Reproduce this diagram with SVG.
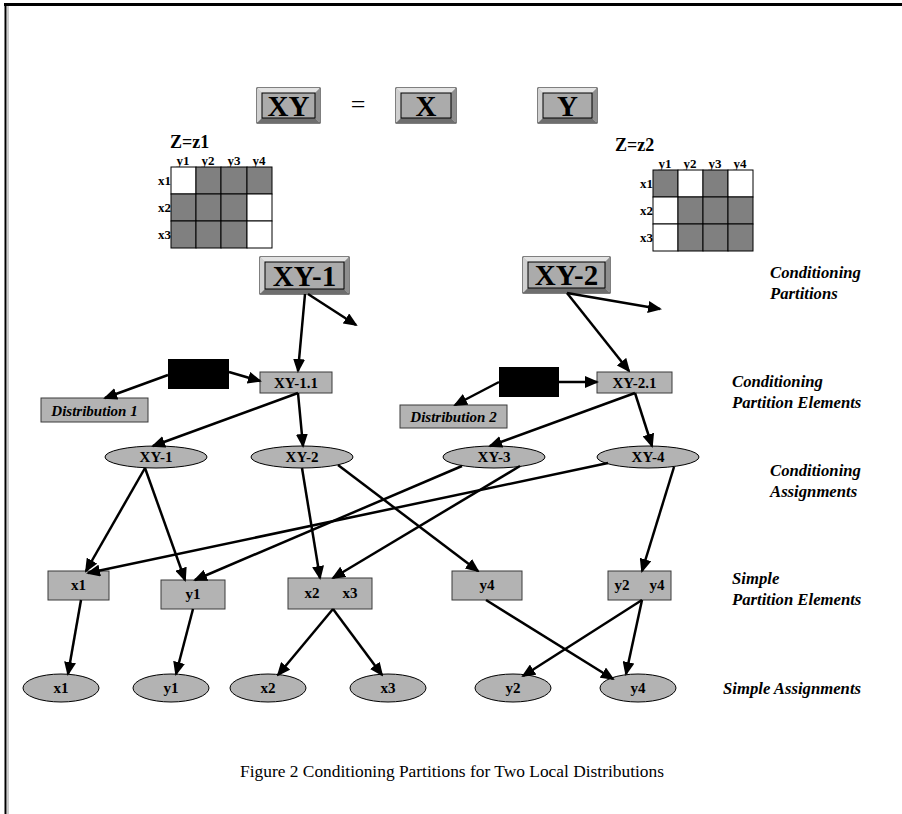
<svg xmlns="http://www.w3.org/2000/svg" width="902" height="814" viewBox="0 0 902 814">
<style>
.bt{font-family:"Liberation Serif","Times New Roman",serif;font-weight:bold;fill:#000;text-anchor:middle}
.big{font-size:29px}
.sm{font-size:15px}
.gl{font-family:"Liberation Serif","Times New Roman",serif;font-weight:bold;font-size:13px;fill:#000}
.zl{font-family:"Liberation Serif","Times New Roman",serif;font-weight:bold;font-size:18px;fill:#000}
.lab{font-family:"Liberation Serif","Times New Roman",serif;font-weight:bold;font-style:italic;font-size:16.7px;fill:#000}
.box{fill:#b3b3b3;stroke:#3a3a3a;stroke-width:1}
.ell{fill:#b3b3b3;stroke:#000;stroke-width:1}
.blk{fill:#000}
.g{fill:#808080;stroke:#000;stroke-width:1}
.w{fill:#fff;stroke:#000;stroke-width:1}
.bl{fill:#e2e2e2}.bt2{fill:#d0d0d0}.bb{fill:#6e6e6e}.br{fill:#8e8e8e}
.face{fill:#ababab;stroke:#000;stroke-width:1}
.edge{stroke:#000;stroke-width:2.5;fill:none;marker-end:url(#ah)}
.eq{font-family:"Liberation Serif","Times New Roman",serif;font-size:26px;fill:#000;text-anchor:middle}
.cap{font-family:"Liberation Serif","Times New Roman",serif;font-size:17.4px;fill:#000}
</style>
<defs>
<marker id="ah" markerUnits="userSpaceOnUse" markerWidth="14" markerHeight="12" refX="12" refY="6" orient="auto">
<path d="M0,0 L14,6 L0,12 z" fill="#000"/>
</marker>
</defs>
<rect x="0" y="0" width="902" height="814" fill="#fff"/>
<!-- frame -->
<line x1="4" y1="4.5" x2="902" y2="4.5" stroke="#000" stroke-width="3"/>
<line x1="5.5" y1="3" x2="5.5" y2="814" stroke="#000" stroke-width="2"/>
<line x1="8" y1="6" x2="8" y2="814" stroke="#999" stroke-width="1"/>

<!-- Top equation -->
<g id="XY">
<rect x="257" y="88" width="63" height="35" fill="#c0c0c0" stroke="#000"/>
<polygon class="bl" points="257,88 320,88 315,93 262,93"/>
<polygon class="bt2" points="257,88 262,93 262,118 257,123"/>
<polygon class="bb" points="257,123 262,118 315,118 320,123"/>
<polygon class="br" points="320,88 320,123 315,118 315,93"/>
<rect class="face" x="262" y="93" width="53" height="25"/>
<text class="bt big" x="288.5" y="116">XY</text>
</g>
<g id="eq"><text class="eq" x="358" y="113">=</text></g>
<g id="X">
<rect x="396" y="88" width="60" height="35" fill="#c0c0c0" stroke="#000"/>
<polygon class="bl" points="396,88 456,88 451,93 401,93"/>
<polygon class="bt2" points="396,88 401,93 401,118 396,123"/>
<polygon class="bb" points="396,123 401,118 451,118 456,123"/>
<polygon class="br" points="456,88 456,123 451,118 451,93"/>
<rect class="face" x="401" y="93" width="50" height="25"/>
<text class="bt big" x="426" y="116">X</text>
</g>
<g id="Y">
<rect x="538" y="88" width="59" height="35" fill="#c0c0c0" stroke="#000"/>
<polygon class="bl" points="538,88 597,88 592,93 543,93"/>
<polygon class="bt2" points="538,88 543,93 543,118 538,123"/>
<polygon class="bb" points="538,123 543,118 592,118 597,123"/>
<polygon class="br" points="597,88 597,123 592,118 592,93"/>
<rect class="face" x="543" y="93" width="49" height="25"/>
<text class="bt big" x="567.5" y="116">Y</text>
</g>

<!-- Left grid -->
<g id="grid1">
<text class="zl" x="170" y="148">Z=z1</text>
<text class="gl" x="183" y="165" text-anchor="middle">y1</text>
<text class="gl" x="208" y="165" text-anchor="middle">y2</text>
<text class="gl" x="234" y="165" text-anchor="middle">y3</text>
<text class="gl" x="259" y="165" text-anchor="middle">y4</text>
<text class="gl" x="171" y="185" text-anchor="end">x1</text>
<text class="gl" x="171" y="212" text-anchor="end">x2</text>
<text class="gl" x="171" y="239" text-anchor="end">x3</text>
<rect class="w" x="171" y="167" width="25" height="27"/>
<rect class="g" x="196" y="167" width="25" height="27"/>
<rect class="g" x="221" y="167" width="26" height="27"/>
<rect class="g" x="247" y="167" width="25" height="27"/>
<rect class="g" x="171" y="194" width="25" height="27"/>
<rect class="g" x="196" y="194" width="25" height="27"/>
<rect class="g" x="221" y="194" width="26" height="27"/>
<rect class="w" x="247" y="194" width="25" height="27"/>
<rect class="g" x="171" y="221" width="25" height="27"/>
<rect class="g" x="196" y="221" width="25" height="27"/>
<rect class="g" x="221" y="221" width="26" height="27"/>
<rect class="w" x="247" y="221" width="25" height="27"/>
</g>

<!-- Right grid -->
<g id="grid2">
<text class="zl" x="615" y="151">Z=z2</text>
<text class="gl" x="665" y="168" text-anchor="middle">y1</text>
<text class="gl" x="690" y="168" text-anchor="middle">y2</text>
<text class="gl" x="715" y="168" text-anchor="middle">y3</text>
<text class="gl" x="740" y="168" text-anchor="middle">y4</text>
<text class="gl" x="653" y="188" text-anchor="end">x1</text>
<text class="gl" x="653" y="215" text-anchor="end">x2</text>
<text class="gl" x="653" y="242" text-anchor="end">x3</text>
<rect class="g" x="653" y="170" width="25" height="27"/>
<rect class="w" x="678" y="170" width="25" height="27"/>
<rect class="g" x="703" y="170" width="25" height="27"/>
<rect class="w" x="728" y="170" width="25" height="27"/>
<rect class="w" x="653" y="197" width="25" height="27"/>
<rect class="g" x="678" y="197" width="25" height="27"/>
<rect class="g" x="703" y="197" width="25" height="27"/>
<rect class="g" x="728" y="197" width="25" height="27"/>
<rect class="w" x="653" y="224" width="25" height="27"/>
<rect class="g" x="678" y="224" width="25" height="27"/>
<rect class="g" x="703" y="224" width="25" height="27"/>
<rect class="g" x="728" y="224" width="25" height="27"/>
</g>

<!-- Conditioning partitions -->
<g id="XY-1">
<rect x="260" y="257" width="89" height="37" fill="#c0c0c0" stroke="#000"/>
<polygon class="bl" points="260,257 349,257 344,262 265,262"/>
<polygon class="bt2" points="260,257 265,262 265,289 260,294"/>
<polygon class="bb" points="260,294 265,289 344,289 349,294"/>
<polygon class="br" points="349,257 349,294 344,289 344,262"/>
<rect class="face" x="265" y="262" width="79" height="27"/>
<text class="bt big" x="304.5" y="286">XY-1</text>
</g>
<g id="XY-2">
<rect x="523" y="257" width="87" height="36" fill="#c0c0c0" stroke="#000"/>
<polygon class="bl" points="523,257 610,257 605,262 528,262"/>
<polygon class="bt2" points="523,257 528,262 528,288 523,293"/>
<polygon class="bb" points="523,293 528,288 605,288 610,293"/>
<polygon class="br" points="610,257 610,293 605,288 605,262"/>
<rect class="face" x="528" y="262" width="77" height="26"/>
<text class="bt big" x="566.5" y="285">XY-2</text>
</g>

<!-- Conditioning partition elements -->
<g id="blk1"><rect class="blk" x="168" y="359" width="61" height="30"/></g>
<g id="blk2"><rect class="blk" x="499" y="367" width="60" height="30"/></g>
<g id="XY-1.1"><rect class="box" x="260" y="372" width="72" height="21"/><text class="bt sm" x="296" y="388">XY-1.1</text></g>
<g id="XY-2.1"><rect class="box" x="597" y="372" width="75" height="21"/><text class="bt sm" x="634.5" y="388">XY-2.1</text></g>
<g id="Dist1"><rect class="box" x="41" y="398" width="107" height="24"/><text class="bt sm" x="94.5" y="415.5" font-style="italic">Distribution 1</text></g>
<g id="Dist2"><rect class="box" x="400" y="405" width="107" height="23"/><text class="bt sm" x="453.5" y="421.5" font-style="italic">Distribution 2</text></g>

<!-- Conditioning assignments -->
<g id="a-XY-1"><ellipse class="ell" cx="156" cy="457" rx="51" ry="11"/><text class="bt sm" x="156" y="462">XY-1</text></g>
<g id="a-XY-2"><ellipse class="ell" cx="302" cy="457" rx="51" ry="11"/><text class="bt sm" x="302" y="462">XY-2</text></g>
<g id="a-XY-3"><ellipse class="ell" cx="494" cy="457" rx="51" ry="11"/><text class="bt sm" x="494" y="462">XY-3</text></g>
<g id="a-XY-4"><ellipse class="ell" cx="648" cy="457" rx="51" ry="11"/><text class="bt sm" x="648" y="462">XY-4</text></g>

<!-- Simple partition elements -->
<g id="p-x1"><rect class="box" x="48" y="571" width="61" height="29"/><text class="bt sm" x="78.5" y="590">x1</text></g>
<g id="p-y1"><rect class="box" x="161" y="580" width="64" height="29"/><text class="bt sm" x="193" y="599">y1</text></g>
<g id="p-x2x3"><rect class="box" x="288" y="578" width="84" height="31"/><text class="bt sm" x="312" y="598">x2</text><text class="bt sm" x="350" y="598">x3</text></g>
<g id="p-y4"><rect class="box" x="452" y="571" width="70" height="29"/><text class="bt sm" x="487" y="590">y4</text></g>
<g id="p-y2y4"><rect class="box" x="608" y="571" width="63" height="29"/><text class="bt sm" x="622" y="590">y2</text><text class="bt sm" x="657" y="590">y4</text></g>

<!-- Simple assignments -->
<g id="s-x1"><ellipse class="ell" cx="61" cy="688" rx="38" ry="14"/><text class="bt sm" x="61" y="693">x1</text></g>
<g id="s-y1"><ellipse class="ell" cx="171" cy="688" rx="38" ry="14"/><text class="bt sm" x="171" y="693">y1</text></g>
<g id="s-x2"><ellipse class="ell" cx="268" cy="688" rx="38" ry="14"/><text class="bt sm" x="268" y="693">x2</text></g>
<g id="s-x3"><ellipse class="ell" cx="388" cy="688" rx="38" ry="14"/><text class="bt sm" x="388" y="693">x3</text></g>
<g id="s-y2"><ellipse class="ell" cx="513" cy="688" rx="38" ry="14"/><text class="bt sm" x="513" y="693">y2</text></g>
<g id="s-y4"><ellipse class="ell" cx="638" cy="688" rx="38" ry="14"/><text class="bt sm" x="638" y="693">y4</text></g>

<!-- connectors -->
<g id="connectors">
<line class="edge" x1="305" y1="294" x2="298" y2="371"/>
<line class="edge" x1="308" y1="294" x2="356" y2="325"/>
<line class="edge" x1="567" y1="293" x2="660" y2="309"/>
<line class="edge" x1="567" y1="293" x2="629" y2="371"/>
<line class="edge" x1="229" y1="372" x2="260" y2="381"/>
<line class="edge" x1="168" y1="375" x2="105" y2="398"/>
<line class="edge" x1="559" y1="382" x2="597" y2="382"/>
<line class="edge" x1="499" y1="382" x2="455" y2="405"/>
<line class="edge" x1="298" y1="393" x2="153" y2="446"/>
<line class="edge" x1="298" y1="393" x2="303" y2="446"/>
<line class="edge" x1="635" y1="393" x2="490" y2="446"/>
<line class="edge" x1="635" y1="393" x2="652" y2="446"/>
<line class="edge" x1="145" y1="468" x2="86" y2="571"/>
<line class="edge" x1="145" y1="468" x2="185" y2="580"/>
<line class="edge" x1="302" y1="468" x2="320" y2="578"/>
<line class="edge" x1="338" y1="465" x2="478" y2="571"/>
<line class="edge" x1="462" y1="466" x2="195" y2="580"/>
<line class="edge" x1="520" y1="466" x2="333" y2="578"/>
<line class="edge" x1="608" y1="463" x2="88" y2="573"/>
<line class="edge" x1="674" y1="467" x2="642" y2="571"/>
<line class="edge" x1="81" y1="600" x2="68" y2="674"/>
<line class="edge" x1="193" y1="609" x2="176" y2="674"/>
<line class="edge" x1="333" y1="609" x2="278" y2="675"/>
<line class="edge" x1="333" y1="609" x2="382" y2="675"/>
<line class="edge" x1="486" y1="600" x2="613" y2="679"/>
<line class="edge" x1="642" y1="600" x2="523" y2="676"/>
<line class="edge" x1="642" y1="600" x2="626" y2="674"/>
</g>

<!-- level labels -->
<g id="labels">
<text class="lab" x="770" y="278">Conditioning</text>
<text class="lab" x="770" y="299">Partitions</text>
<text class="lab" x="732" y="387">Conditioning</text>
<text class="lab" x="732" y="408">Partition Elements</text>
<text class="lab" x="770" y="476">Conditioning</text>
<text class="lab" x="770" y="497">Assignments</text>
<text class="lab" x="732" y="584">Simple</text>
<text class="lab" x="732" y="605">Partition Elements</text>
<text class="lab" x="723" y="694">Simple Assignments</text>
</g>

<g id="caption"><text class="cap" x="240" y="777">Figure 2 Conditioning Partitions for Two Local Distributions</text></g>
</svg>
